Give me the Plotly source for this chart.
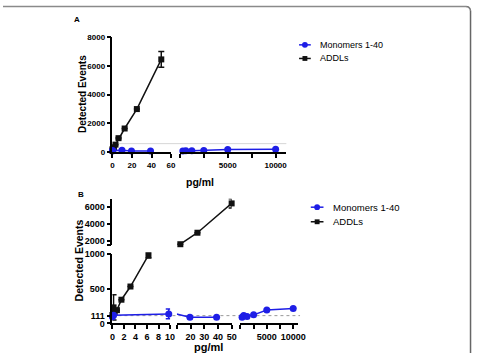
import numpy as np
import plotly.graph_objects as go

# ---------------- data ----------------
addl_conc = [0, 0.195, 0.39, 0.78, 1.56, 3.125, 6.25, 12.5, 25, 50]
addl_vals = [120, 230, 160, 190, 340, 530, 980, 1650, 3000, 6450]
addl_err = [0, 180, 0, 0, 0, 0, 40, 0, 0, 550]

mono_conc = [0, 0.2, 9.77, 19.5, 39, 312.5, 625, 1250, 2500, 5000, 10000]
mono_vals = [95, 115, 135, 87, 87, 89, 113, 99, 122, 193, 215]
mono_err = [0, 0, 70, 0, 0, 0, 0, 0, 0, 0, 0]

threshold_a = 600
threshold_b = 111

a_yticks = [0, 2000, 4000, 6000, 8000]
a_x1ticks = [0, 20, 40, 60]
big_ticks = [0, 2500, 5000, 7500, 10000]
big_text = ["", "", "5000", "", "10000"]
b_x1ticks = [0, 2, 4, 6, 8, 10]
b_x2ticks = [10, 20, 30, 40, 50]
b_x2text = ["", "20", "30", "40", "50"]
b_ylow_ticks = [0, 111, 500, 1000]
b_yup_ticks = [1500, 2000, 4000, 6000]
b_yup_text = ["", "2000", "4000", "6000"]

series_names = ["Monomers 1-40", "ADDLs"]

BLUE = "#1e1ee6"
BLACK = "#111111"
FONT = "Liberation Sans, Arial, sans-serif"
W, H = 480, 358


def px(x):
    return x / W


def py(y):
    return 1 - y / H


ac = np.array(addl_conc); av = np.array(addl_vals); ae = np.array(addl_err)
mc = np.array(mono_conc); mv = np.array(mono_vals); me = np.array(mono_err)

fig = go.Figure()


def add(x, y, err, color, symbol, size, xa, ya, mode="lines+markers", clip=False):
    fig.add_trace(go.Scatter(
        x=x, y=y, mode=mode, xaxis=xa, yaxis=ya, showlegend=False,
        cliponaxis=clip,
        line=dict(color=color, width=1.5),
        marker=dict(symbol=symbol, size=size, color=color),
        error_y=dict(type="data", array=err, visible=True,
                     color=color, thickness=1.5, width=3) if err is not None else None,
    ))


# ---------- Panel A ----------
m = ac <= 60
add(ac[m], av[m], ae[m], BLACK, "square", 6, "x", "y")
m = mc <= 60
add(mc[m], mv[m], me[m], BLUE, "circle", 7, "x", "y")
m = mc > 60
add(mc[m], mv[m], me[m], BLUE, "circle", 7, "x2", "y")

# ---------- Panel B ----------
m = ac <= 10
add(ac[m], av[m], ae[m], BLACK, "square", 6, "x3", "y2")
m = ac > 10
add(ac[m], av[m], ae[m], BLACK, "square", 6, "x4", "y3")
m = mc <= 10
add(mc[m], mv[m], me[m], BLUE, "circle", 7, "x3", "y2")
# connector entering the 10-50 segment
m = (mc > 5) & (mc <= 20)
add(mc[m], mv[m], None, BLUE, "circle", 7, "x4", "y2", mode="lines", clip=True)
m = (mc > 10) & (mc <= 50)
add(mc[m], mv[m], me[m], BLUE, "circle", 7, "x4", "y2")
m = mc > 50
add(mc[m], mv[m], me[m], BLUE, "circle", 7, "x5", "y2")

tickfont_a = dict(family=FONT, size=8, color="black", weight="bold")
tickfont_b = dict(family=FONT, size=9, color="black", weight="bold")
ax_common = dict(showgrid=False, zeroline=False, showline=True, linecolor="black",
                 linewidth=1.5, ticks="outside", ticklen=4, tickwidth=1.5,
                 tickcolor="black")

fig.update_layout(
    width=W, height=H, autosize=False,
    margin=dict(l=0, r=0, t=0, b=0, pad=0),
    paper_bgcolor="white", plot_bgcolor="rgba(0,0,0,0)",
    showlegend=False,
    xaxis=dict(domain=[px(112), px(172)], range=[0, 60], anchor="y",
               tickvals=a_x1ticks, tickfont=tickfont_a, **ax_common),
    xaxis2=dict(domain=[px(181), px(290)], range=[0, 11120], anchor="y",
                tickvals=big_ticks, ticktext=big_text, tickfont=tickfont_a, **ax_common),
    yaxis=dict(domain=[py(151.5), py(33)], range=[0, 8000], anchor="x",
               tickvals=a_yticks, tickfont=tickfont_a, **ax_common),
    xaxis3=dict(domain=[px(112), px(171)], range=[0, 10], anchor="y2",
                tickvals=b_x1ticks, tickfont=tickfont_b, **ax_common),
    xaxis4=dict(domain=[px(178), px(234)], range=[10, 50], anchor="y2",
                tickvals=b_x2ticks, ticktext=b_x2text, tickfont=tickfont_b, **ax_common),
    xaxis5=dict(domain=[px(243), px(302)], range=[0, 10926], anchor="y2",
                tickvals=big_ticks, ticktext=big_text, tickfont=tickfont_b, **ax_common),
    yaxis2=dict(domain=[py(327.5), py(256)], range=[0, 1000], anchor="x3",
                tickvals=b_ylow_ticks, tickfont=tickfont_b, **ax_common),
    yaxis3=dict(domain=[py(247.4), py(199.3)], range=[1500, 7000], anchor="x3",
                tickvals=b_yup_ticks, ticktext=b_yup_text, tickfont=tickfont_b, **ax_common),
)

shapes = [
    dict(type="line", xref="paper", yref="y", x0=px(112), x1=px(290),
         y0=threshold_a, y1=threshold_a, line=dict(color="#d6d6d6", width=1), layer="below"),
    dict(type="line", xref="paper", yref="y2", x0=px(112), x1=px(304),
         y0=threshold_b, y1=threshold_b, line=dict(color="#999999", width=1, dash="dot"),
         layer="below"),
    # figure frame: top and right edge, with a small rounded corner
    dict(type="line", xref="paper", yref="paper", x0=0, x1=px(474), y0=py(1.5), y1=py(1.5),
         line=dict(color="#8a8a8a", width=1.5)),
    dict(type="line", xref="paper", yref="paper", x0=px(478.5), x1=px(478.5), y0=py(6), y1=0,
         line=dict(color="#666666", width=1.5)),
    dict(type="path", xref="paper", yref="paper",
         path=(f"M {px(474)},{py(1.5)} L {px(476.3)},{py(2.1)} L {px(477.9)},{py(3.7)} "
               f"L {px(478.5)},{py(6)}"),
         line=dict(color="#777777", width=1.5)),
]

annotations = [
    dict(text="A", x=px(75.5), y=py(14.5), font=dict(family=FONT, size=8, weight="bold")),
    dict(text="B", x=px(80), y=py(195), font=dict(family=FONT, size=8, weight="bold")),
    dict(text="Detected Events", x=px(81.5), y=py(92), textangle=-90,
         font=dict(family=FONT, size=10, weight="bold")),
    dict(text="Detected Events", x=px(77.5), y=py(263), textangle=-90,
         font=dict(family=FONT, size=10.5, weight="bold")),
    dict(text="pg/ml", x=px(202), y=py(182), font=dict(family=FONT, size=10.5, weight="bold")),
    dict(text="pg/ml", x=px(210), y=py(352), font=dict(family=FONT, size=11, weight="bold")),
]

# manual legends
legend_specs = [
    (303, 315, [41, 55], 322, 9),
    (315, 328, [208, 223], 336, 9.5),
]
for x0, x1, ys, tx, fs in legend_specs:
    for name, yy, col, kind in zip(series_names, ys, [BLUE, BLACK], ["circle", "square"]):
        shapes.append(dict(type="line", xref="paper", yref="paper", x0=px(x0), x1=px(x1),
                           y0=py(yy), y1=py(yy), line=dict(color=col, width=1.5)))
        cx = (x0 + x1) / 2
        r = 3
        if kind == "circle":
            shapes.append(dict(type="circle", xref="paper", yref="paper",
                               x0=px(cx - r), x1=px(cx + r), y0=py(yy + r), y1=py(yy - r),
                               fillcolor=col, line=dict(color=col, width=0)))
        else:
            shapes.append(dict(type="rect", xref="paper", yref="paper",
                               x0=px(cx - 2.5), x1=px(cx + 2.5), y0=py(yy + 2.5), y1=py(yy - 2.5),
                               fillcolor=col, line=dict(color=col, width=0)))
        annotations.append(dict(text=name, x=px(tx), y=py(yy), xanchor="left",
                                font=dict(family=FONT, size=fs, color="black")))

for a in annotations:
    a.setdefault("xref", "paper")
    a.setdefault("yref", "paper")
    a.setdefault("showarrow", False)
    a.setdefault("xanchor", "center")
    a.setdefault("yanchor", "middle")
    a["font"].setdefault("color", "black")

fig.update_layout(shapes=shapes, annotations=annotations)
fig.write_html("out.html")
